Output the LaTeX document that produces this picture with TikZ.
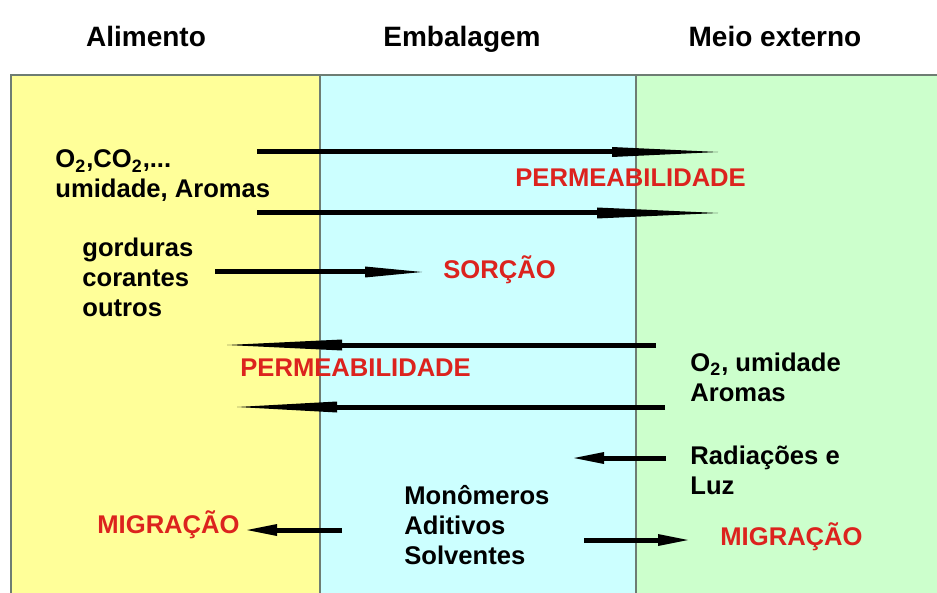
\documentclass[tikz,border=0pt]{standalone}
\usepackage{fontspec}
\setmainfont{Liberation Sans}
\definecolor{foodyellow}{RGB}{255,255,153}
\definecolor{packcyan}{RGB}{204,255,255}
\definecolor{outgreen}{RGB}{204,255,204}
\definecolor{edgegray}{RGB}{110,125,115}
\definecolor{flowred}{RGB}{220,35,30}
\begin{document}
\begin{tikzpicture}[x=0.5pt,y=-0.5pt,
	head/.style={font=\fontsize{14}{17}\selectfont\bfseries, anchor=base},
	txt/.style={font=\fontsize{12.8}{15}\selectfont\bfseries, align=left, anchor=west, inner sep=0pt},
	tag/.style={txt, text=flowred},
	shaft/.style={line width=2.5pt}]
	%
	\clip (0,0) rectangle (937,593);
	\fill[white] (0,0) rectangle (937,593);
	%
	% the three layers
	\fill[foodyellow] (11,75) rectangle (320,600);
	\fill[packcyan] (320,75) rectangle (636,600);
	\fill[outgreen] (636,75) rectangle (940,600);
	\draw[edgegray, line width=0.8pt] (11,600) -- (11,75) -- (940,75)
		(320,75) -- (320,600) (636,75) -- (636,600);
	%
	\node[head] (alim) at (146,47) {Alimento};
	\node[head] (emb) at (462,47) {Embalagem};
	\node[head] (meio) at (775,47) {Meio externo};
	%
	\node[txt] (gases) at (55,176) {O\textsubscript{2},CO\textsubscript{2},...\\umidade, Aromas};
	\node[txt] (gord) at (82,277) {gorduras\\corantes\\outros};
	\node[txt] (gasout) at (690,377) {O\textsubscript{2}, umidade\\Aromas};
	\node[txt] (rad) at (690,470) {Radiações e\\Luz};
	\node[txt] (mono) at (404,525) {Monômeros\\Aditivos\\Solventes};
	%
	\node[tag] (permout) at (515,178) {PERMEABILIDADE};
	\node[tag] (sorc) at (443,270) {SORÇÃO};
	\node[tag] (permin) at (240,368) {PERMEABILIDADE};
	\node[tag] (migin) at (97,525) {MIGRAÇÃO};
	\node[tag] (migout) at (720,537) {MIGRAÇÃO};
	%
	% arrows: name/start/end/height/head length/head half width
	\foreach \n/\xa/\xb/\y/\hl/\hw in {a/257/718/152/106/5, b/257/718/213/121/5.5, c/215/422/272/57/5.5,
		d/656/227/345/115/5.5, e/665/237/407/100/5.5, f/666/574/458/30/6,
		g/342/247/530/30/6, h/584/688/540/30/6}{
		\pgfmathsetmacro\dir{sign(\xb-\xa)}
		\coordinate (\n s) at (\xa,\y);
		\coordinate (\n e) at (\xb,\y);
		\coordinate (\n b) at ({\xb-\dir*\hl},\y);
		\draw[shaft] (\n s) -- (\n b);
		\fill (\n e) -- ([yshift=\hw*0.5pt]\n b) -- ([yshift=-\hw*0.5pt]\n b) -- cycle;
	}
\end{tikzpicture}
\end{document}
